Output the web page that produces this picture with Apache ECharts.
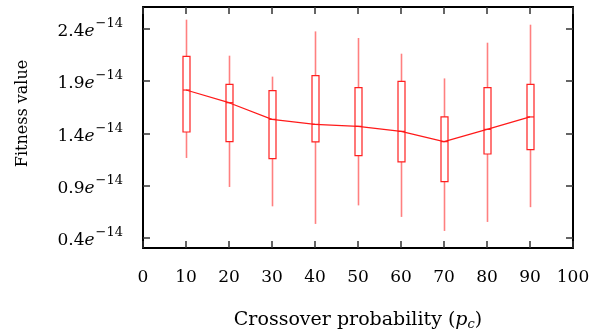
<!DOCTYPE html>
<html>
<head>
<meta charset="utf-8">
<script src="https://cdn.jsdelivr.net/npm/echarts@6/dist/echarts.min.js"></script>
<style>
  html, body { margin: 0; padding: 0; background: #fff; }
  #chart { width: 608px; height: 336px; }
</style>
</head>
<body>
<div id="chart"></div>
<script>
// values in units of 1e-14
const crossover = [10, 20, 30, 40, 50, 60, 70, 80, 90];
const minVals = [1.165, 0.888, 0.703, 0.535, 0.712, 0.602, 0.468, 0.554, 0.695];
const q1Vals = [1.413, 1.321, 1.158, 1.318, 1.187, 1.127, 0.939, 1.203, 1.244];
const medianVals = [1.814, 1.693, 1.534, 1.486, 1.467, 1.419, 1.321, 1.438, 1.557];
const q3Vals = [2.135, 1.868, 1.808, 1.951, 1.836, 1.897, 1.557, 1.836, 1.868];
const maxVals = [2.486, 2.142, 1.942, 2.374, 2.311, 2.161, 1.925, 2.266, 2.438];
const yTicks = [0.4, 0.9, 1.4, 1.9, 2.4];

const FONT = 'DejaVu Serif';

function init() {
  const chart = echarts.init(document.getElementById('chart'));

  const boxData = crossover.map((x, i) => [x, minVals[i], q1Vals[i], medianVals[i], q3Vals[i], maxVals[i]]);
  const medianLine = crossover.map((x, i) => [x, medianVals[i]]);

  const tickStyle = { inside: true, length: 7, lineStyle: { color: '#333', width: 1.5 } };
  const frameLine = { show: true, onZero: false, lineStyle: { color: '#000', width: 2 } };

  const option = {
    animation: false,
    grid: { left: 143, right: 35, top: 7, bottom: 88 },
    xAxis: [
      {
        type: 'value', min: 0, max: 100, interval: 10,
        axisLine: frameLine,
        axisTick: tickStyle,
        splitLine: { show: false },
        axisLabel: { margin: 21, fontFamily: FONT, fontSize: 17, color: '#000' },
        name: 'Crossover probability ({i|p}{s|c})',
        nameLocation: 'middle',
        nameGap: 62,
        nameTextStyle: {
          fontFamily: FONT, fontSize: 19, color: '#000',
          rich: {
            i: { fontFamily: FONT, fontStyle: 'italic', fontSize: 19, color: '#000' },
            s: { fontFamily: FONT, fontStyle: 'italic', fontSize: 13, color: '#000', padding: [8, 0, 0, 0] }
          }
        }
      },
      {
        type: 'value', min: 0, max: 100, interval: 10, position: 'top',
        axisLine: frameLine,
        axisTick: tickStyle,
        axisLabel: { show: false },
        splitLine: { show: false }
      }
    ],
    yAxis: [
      {
        type: 'value', min: 0.305, max: 2.607,
        axisLine: frameLine,
        axisTick: Object.assign({ customValues: yTicks }, tickStyle),
        splitLine: { show: false },
        axisLabel: {
          customValues: yTicks,
          margin: 20,
          formatter: v => '{b|' + v.toFixed(1) + '}{e|e}{s|\u221214}',
          rich: {
            b: { fontFamily: FONT, fontSize: 17, color: '#000', verticalAlign: 'bottom' },
            e: { fontFamily: FONT, fontStyle: 'italic', fontSize: 17, color: '#000', verticalAlign: 'bottom' },
            s: { fontFamily: FONT, fontSize: 13, color: '#000', verticalAlign: 'top', padding: [0, 0, 10, 1] }
          }
        },
        name: 'Fitness value',
        nameLocation: 'middle',
        nameGap: 112,
        nameTextStyle: { fontFamily: FONT, fontSize: 16, color: '#000', padding: [0, 0, 0, 28] }
      },
      {
        type: 'value', min: 0.305, max: 2.607, position: 'right',
        axisLine: frameLine,
        axisTick: Object.assign({ customValues: yTicks }, tickStyle),
        axisLabel: { show: false },
        splitLine: { show: false }
      }
    ],
    series: [
      {
        type: 'custom',
        data: boxData,
        z: 2,
        renderItem: function (params, api) {
          const x = api.value(0);
          const pMin = api.coord([x, api.value(1)]);
          const pQ1 = api.coord([x, api.value(2)]);
          const pMed = api.coord([x, api.value(3)]);
          const pQ3 = api.coord([x, api.value(4)]);
          const pMax = api.coord([x, api.value(5)]);
          const half = 3.5;
          const cx = Math.round(pMin[0]) + 0.5;
          return {
            type: 'group',
            children: [
              {
                type: 'line',
                shape: { x1: cx, y1: pMin[1], x2: cx, y2: pMax[1] },
                style: { stroke: '#ff8080', lineWidth: 1.6 }
              },
              {
                type: 'rect',
                shape: { x: cx - half, y: pQ3[1], width: half * 2, height: pQ1[1] - pQ3[1] },
                style: { fill: '#fff', stroke: '#ff2020', lineWidth: 1.2 }
              },
              {
                type: 'line',
                shape: { x1: cx - half, y1: pMed[1], x2: cx + half, y2: pMed[1] },
                style: { stroke: '#ff2020', lineWidth: 1.2 }
              }
            ]
          };
        }
      },
      {
        type: 'line',
        data: medianLine,
        z: 3,
        symbol: 'none',
        lineStyle: { color: '#ff1a1a', width: 1.2 }
      }
    ]
  };

  chart.setOption(option);
}

document.addEventListener('DOMContentLoaded', init);
</script>
</body>
</html>
